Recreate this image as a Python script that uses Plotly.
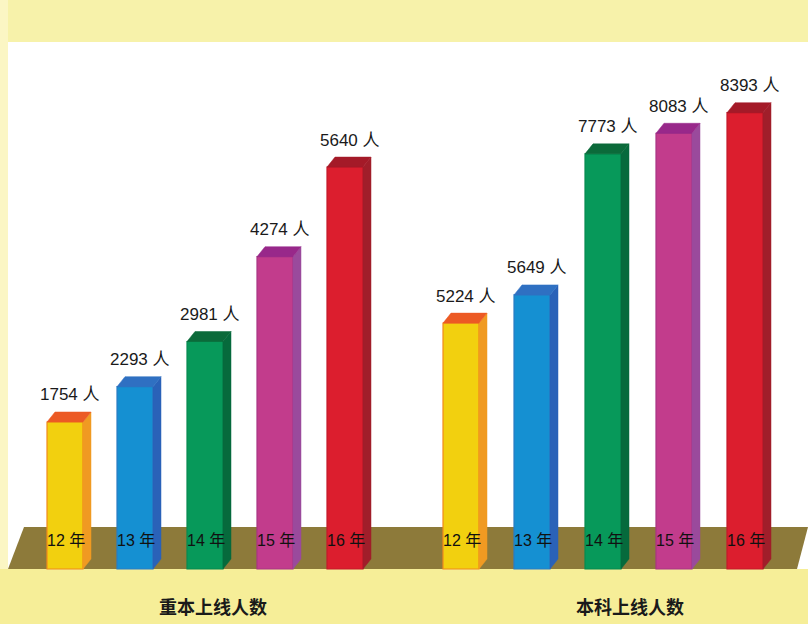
import plotly.graph_objects as go

# ---------------- data ----------------
years = ["12 年", "13 年", "14 年", "15 年", "16 年"]
zhongben = [1754, 2293, 2981, 4274, 5640]   # 重本上线人数
benke = [5224, 5649, 7773, 8083, 8393]      # 本科上线人数
group_titles = ["重本上线人数", "本科上线人数"]
unit = "人"

# ---------------- styling ----------------
W, H = 808, 624
front = ["#f2d00f", "#1590d2", "#07995a", "#c23c8c", "#dc1e2e"]
side = ["#f09a22", "#2a62b8", "#066a3c", "#9a4a9c", "#a01e2a"]
top = ["#ec5a24", "#2f70c2", "#0b6a3a", "#98288a", "#a41a28"]
edge = ["#f08a1c", "#2a7cc4", "#078a50", "#a83484", "#c41a2a"]

BASE_PX = 55          # ground line, px from bottom
DX_PX, DY_PX = 8, 10  # 3D depth
LBL_FONT = "Liberation Sans Narrow, Arial Narrow, Liberation Sans, Noto Sans CJK SC"
CJK_FONT = "Noto Sans CJK SC"

groups = [
    dict(vals=zhongben, xa="x", ya="y", dom=[0, 0.5], c0=65, pitch=70, ppu=0.0656, base=-487),
    dict(vals=benke, xa="x2", ya="y2", dom=[0.5, 1], c0=57, pitch=71, ppu=0.0664, base=1521),
]

fig = go.Figure()
annotations = []
layout_axes = {}

for gi, g in enumerate(groups):
    dom_px = (g["dom"][1] - g["dom"][0]) * W
    xr0 = -g["c0"] / g["pitch"]
    xrange = [xr0, xr0 + dom_px / g["pitch"]]
    yr0 = g["base"] - BASE_PX / g["ppu"]
    yrange = [yr0, yr0 + H / g["ppu"]]
    bw = 36 / g["pitch"]
    dx = DX_PX / g["pitch"]
    dy = DY_PX / g["ppu"]
    xs = list(range(len(years)))

    fig.add_trace(go.Bar(
        x=xs, y=[v - g["base"] for v in g["vals"]], base=g["base"],
        width=bw, xaxis=g["xa"], yaxis=g["ya"],
        marker=dict(color=front, line=dict(color=edge, width=1.2)),
        hoverinfo="skip", showlegend=False,
    ))
    for i, v in enumerate(g["vals"]):
        xl, xr = i - bw / 2, i + bw / 2
        b = g["base"]
        # side face
        fig.add_trace(go.Scatter(
            x=[xr, xr, xr + dx, xr + dx, xr], y=[b, v, v + dy, b + dy, b],
            fill="toself", fillcolor=side[i], mode="lines",
            line=dict(color=side[i], width=0.5), xaxis=g["xa"], yaxis=g["ya"],
            hoverinfo="skip", showlegend=False))
        # top face
        fig.add_trace(go.Scatter(
            x=[xl, xr, xr + dx, xl + dx, xl], y=[v, v, v + dy, v + dy, v],
            fill="toself", fillcolor=top[i], mode="lines",
            line=dict(color=top[i], width=0.5), xaxis=g["xa"], yaxis=g["ya"],
            hoverinfo="skip", showlegend=False))
        annotations.append(dict(
            x=i, y=v, xref=g["xa"], yref=g["ya"], text=f"{v} {unit}",
            showarrow=False, yshift=27, xshift=5, xanchor="center", yanchor="middle",
            font=dict(family=LBL_FONT, size=17, color="#1a1a1a")))
        annotations.append(dict(
            x=i, y=b, xref=g["xa"], yref=g["ya"], text=years[i],
            showarrow=False, yshift=29, xshift=1, xanchor="center", yanchor="middle",
            font=dict(family=LBL_FONT, size=16, color="#111111")))
    sfx = "" if gi == 0 else "2"
    layout_axes["xaxis" + sfx] = dict(domain=g["dom"], range=xrange, visible=False, fixedrange=True)
    layout_axes["yaxis" + sfx] = dict(domain=[0, 1], range=yrange, visible=False, fixedrange=True,
                                      **({} if gi == 0 else {"anchor": "x2"}))
    if gi == 1:
        layout_axes["xaxis2"]["anchor"] = "y2"

# group titles
for t, cx in zip(group_titles, [213, 630]):
    annotations.append(dict(x=cx / W, y=1 - 606 / H, xref="paper", yref="paper", text=f"<b>{t}</b>",
                            xanchor="center", yanchor="middle",
                            showarrow=False, font=dict(family=CJK_FONT, size=18, color="#1a1a1a")))

def px(x, y):
    return x / W, 1 - y / H

shapes = [
    # top band
    dict(type="rect", xref="paper", yref="paper", x0=0, x1=1, y0=1 - 42 / H, y1=1,
         fillcolor="#f7f2aa", line=dict(width=0), layer="below"),
    # left strip
    dict(type="rect", xref="paper", yref="paper", x0=0, x1=8 / W, y0=0, y1=1,
         fillcolor="#fbf6c4", line=dict(width=0), layer="below"),
    # bottom band
    dict(type="rect", xref="paper", yref="paper", x0=0, x1=1, y0=0, y1=1 - 569 / H,
         fillcolor="#f6ee98", line=dict(width=0), layer="below"),
]
pts = [px(8, 569), px(24, 527), px(808, 527), px(797, 569)]
path = "M " + " L ".join(f"{a:.5f},{b:.5f}" for a, b in pts) + " Z"
shapes.append(dict(type="path", xref="paper", yref="paper", path=path,
                   fillcolor="#8d7a3a", line=dict(width=0), layer="below"))

fig.update_layout(
    width=W, height=H, margin=dict(l=0, r=0, t=0, b=0),
    paper_bgcolor="white", plot_bgcolor="rgba(0,0,0,0)",
    barmode="overlay", showlegend=False,
    shapes=shapes, annotations=annotations, **layout_axes,
)
fig.write_html("out.html", config={"displayModeBar": False},
               post_script="document.body.style.margin='0';document.body.style.overflow='hidden';")
